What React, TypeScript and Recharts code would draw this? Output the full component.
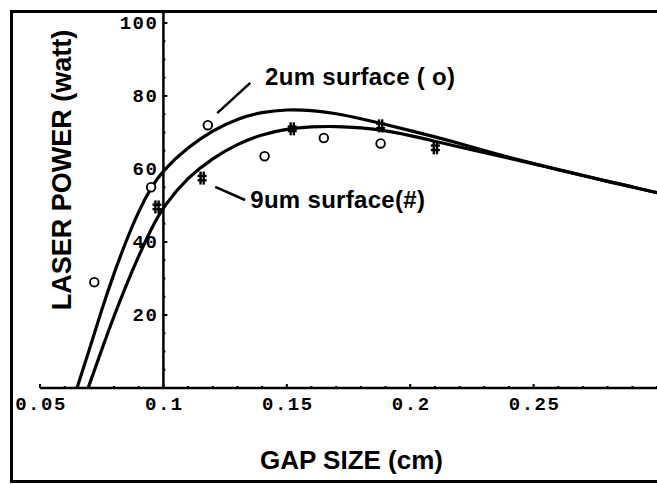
import React from 'react';
import {
  ComposedChart,
  Line,
  Scatter,
  XAxis,
  YAxis,
  Label,
  ReferenceLine,
  ReferenceDot,
} from 'recharts';

// axis ticks
const X_TICKS = [
  0.05, 0.06, 0.07, 0.08, 0.09, 0.1, 0.11, 0.12, 0.13, 0.14, 0.15, 0.16, 0.17,
  0.18, 0.19, 0.2, 0.21, 0.22, 0.23, 0.24, 0.25, 0.26, 0.27, 0.28, 0.29, 0.3,
];
const X_LABELED = [0.05, 0.1, 0.15, 0.2, 0.25];
const Y_TICKS = [0, 5, 10, 15, 20, 25, 30, 35, 40, 45, 50, 55, 60, 65, 70, 75, 80, 85, 90, 95, 100];
const Y_LABELED = [20, 40, 60, 80, 100];

// fitted curve, 2um surface
const FIT_2UM_X = [
  0.065, 0.07, 0.075, 0.08, 0.085, 0.09, 0.095, 0.1, 0.11, 0.12, 0.13, 0.14, 0.15, 0.16,
  0.17, 0.18, 0.19, 0.2, 0.21, 0.22, 0.23, 0.24, 0.25, 0.26, 0.27, 0.28, 0.29, 0.3,
];
const FIT_2UM_Y = [
  0, 10.5, 21.5, 31.5, 40.5, 48.5, 55, 59.8, 66, 70.6, 73.8, 75.6, 76.3, 76.1,
  75.2, 73.8, 72.2, 70.5, 68.8, 67, 65, 63.2, 61.5, 59.8, 58.2, 56.6, 55.1, 53.5,
];

// fitted curve, 9um surface
const FIT_9UM_X = [
  0.0695, 0.075, 0.08, 0.085, 0.09, 0.095, 0.1, 0.11, 0.12, 0.13, 0.14, 0.15, 0.16,
  0.17, 0.18, 0.19, 0.2, 0.21, 0.22, 0.23, 0.24, 0.25, 0.26, 0.27, 0.28, 0.29, 0.3,
];
const FIT_9UM_Y = [
  0, 10.5, 19.8, 28.3, 36.2, 43.5, 49.8, 57.8, 63, 66.9, 69.5, 71, 71.6,
  71.7, 71.3, 70.5, 69.2, 67.6, 66, 64.5, 63, 61.4, 59.8, 58.2, 56.6, 55.1, 53.5,
];

// measured points
const MEAS_2UM_X = [0.072, 0.095, 0.118, 0.141, 0.165, 0.188];
const MEAS_2UM_Y = [29, 55, 72, 63.5, 68.5, 67];
const MEAS_9UM_X = [0.0974, 0.1157, 0.1522, 0.188, 0.2102];
const MEAS_9UM_Y = [49.6, 57.5, 71, 71.8, 65.8];

const zip = (xs: number[], ys: number[]) => xs.map((x, i) => ({ x, y: ys[i] }));

const fit2 = zip(FIT_2UM_X, FIT_2UM_Y);
const fit9 = zip(FIT_9UM_X, FIT_9UM_Y);
const meas2 = zip(MEAS_2UM_X, MEAS_2UM_Y);
const meas9 = zip(MEAS_9UM_X, MEAS_9UM_Y);

const W = 657;
const H = 484;
const Y_AXIS_W = 40;
const PLOT_W = W - Y_AXIS_W;
const X_MIN = 0.05;
const X_MAX = 0.3;
const Y_AT = 0.1; // y axis crosses here
const Y_SHIFT = (PLOT_W * (Y_AT - X_MIN)) / (X_MAX - X_MIN);

const SANS = '"Liberation Sans", Arial, Helvetica, sans-serif';
const MONO = '"Liberation Mono", "Courier New", monospace';

const XTick = (props: any) => {
  const { x, y, payload } = props;
  const major = X_LABELED.includes(payload.value);
  return (
    <g>
      <line x1={x} x2={x} y1={y} y2={y - (major ? 4 : 2)} stroke="#000" strokeWidth={2} />
      {major && (
        <text
          x={x + 1}
          y={y + 17}
          textAnchor="middle"
          dominantBaseline="central"
          fontFamily={MONO}
          fontWeight="bold"
          fontSize={19}
          letterSpacing={1.5}
          fill="#000"
        >
          {payload.value}
        </text>
      )}
    </g>
  );
};

const YTick = (props: any) => {
  const { x, y, payload } = props;
  const ax = x + Y_SHIFT;
  const major = Y_LABELED.includes(payload.value);
  return (
    <g>
      <line x1={ax} x2={ax + (major ? 4 : 2)} y1={y} y2={y} stroke="#000" strokeWidth={2} />
      {major && (
        <text
          x={ax - 5}
          y={y + 1}
          textAnchor="end"
          dominantBaseline="central"
          fontFamily={MONO}
          fontWeight="bold"
          fontSize={19}
          letterSpacing={1.5}
          fill="#000"
        >
          {payload.value}
        </text>
      )}
    </g>
  );
};

const Circle = (props: any) => (
  <circle cx={props.cx} cy={props.cy} r={4.3} fill="#fff" stroke="#000" strokeWidth={1.9} />
);

const Hash = (props: any) => {
  const { cx, cy } = props;
  return (
    <g stroke="#000" strokeWidth={2.4}>
      <line x1={cx - 1.6} x2={cx - 1.6} y1={cy - 6.5} y2={cy + 6.5} />
      <line x1={cx + 1.6} x2={cx + 1.6} y1={cy - 6.5} y2={cy + 6.5} />
      <line x1={cx - 4.5} x2={cx + 4.5} y1={cy - 2.2} y2={cy - 2.2} />
      <line x1={cx - 4.5} x2={cx + 4.5} y1={cy + 2.2} y2={cy + 2.2} />
    </g>
  );
};

const noteText = (text: string) => (p: any) => (
  <text
    x={p.cx}
    y={p.cy}
    fontFamily={SANS}
    fontWeight="bold"
    fontSize={24}
    letterSpacing={0.3}
    fill="#000"
  >
    {text}
  </text>
);

export default function App() {
  return (
    <div
      style={{
        position: 'absolute',
        left: 0,
        top: 0,
        width: W,
        height: H,
        overflow: 'hidden',
        background: '#fff',
      }}
    >
      <div
        style={{
          position: 'absolute',
          left: 10,
          top: 10,
          width: 720,
          height: 473,
          border: '3px solid #000',
          boxSizing: 'border-box',
        }}
      />
      <div style={{ position: 'absolute', left: 0, top: 0 }}>
        <ComposedChart width={W} height={H} margin={{ top: 12, right: 0, bottom: 66, left: 0 }}>
          <XAxis
            type="number"
            dataKey="x"
            domain={[X_MIN, X_MAX]}
            ticks={X_TICKS}
            interval={0}
            allowDataOverflow
            height={30}
            tickSize={0}
            tickMargin={0}
            tickLine={false}
            axisLine={{ stroke: '#000', strokeWidth: 2.5 }}
            tick={<XTick />}
          >
            <Label
              content={(p: any) => (
                <text
                  x={p.viewBox.x + p.viewBox.width / 2 + 3}
                  y={469}
                  textAnchor="middle"
                  fontFamily={SANS}
                  fontWeight="bold"
                  fontSize={26}
                  fill="#000"
                >
                  GAP SIZE (cm)
                </text>
              )}
            />
          </XAxis>
          <YAxis
            type="number"
            dataKey="y"
            domain={[0, 103]}
            ticks={Y_TICKS}
            interval={0}
            allowDataOverflow
            width={Y_AXIS_W}
            tickSize={0}
            tickMargin={0}
            tickLine={false}
            axisLine={false}
            tick={<YTick />}
          >
            <Label
              content={() => (
                <text
                  x={71}
                  y={170}
                  transform="rotate(-90 71 170)"
                  textAnchor="middle"
                  fontFamily={SANS}
                  fontWeight="bold"
                  fontSize={27}
                  fill="#000"
                >
                  LASER POWER (watt)
                </text>
              )}
            />
          </YAxis>
          <ReferenceLine x={Y_AT} stroke="#000" strokeWidth={2.5} />
          <Line
            data={fit2}
            dataKey="y"
            type="basis"
            stroke="#000"
            strokeWidth={3.2}
            dot={false}
            isAnimationActive={false}
          />
          <Line
            data={fit9}
            dataKey="y"
            type="basis"
            stroke="#000"
            strokeWidth={3.2}
            dot={false}
            isAnimationActive={false}
          />
          <Scatter data={meas2} shape={<Circle />} isAnimationActive={false} />
          <Scatter data={meas9} shape={<Hash />} isAnimationActive={false} />
          <ReferenceLine
            segment={[{ x: 0.1218, y: 75.3 }, { x: 0.1352, y: 83.6 }]}
            stroke="#000"
            strokeWidth={2.5}
          />
          <ReferenceLine
            segment={[{ x: 0.121, y: 55.1 }, { x: 0.1331, y: 51.5 }]}
            stroke="#000"
            strokeWidth={2.5}
          />
          <ReferenceDot x={0.1412} y={83} r={0} shape={noteText('2um surface ( o)')} />
          <ReferenceDot x={0.1352} y={49.3} r={0} shape={noteText('9um surface(#)')} />
        </ComposedChart>
      </div>
    </div>
  );
}
